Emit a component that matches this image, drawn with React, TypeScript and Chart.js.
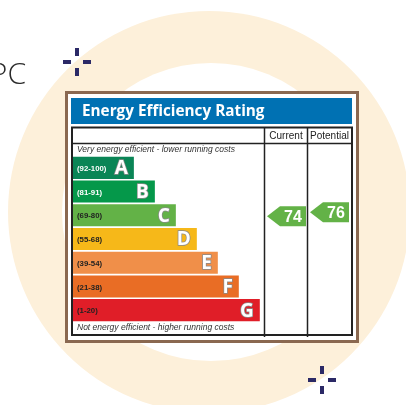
import React, { useEffect, useRef } from "react";
import { Chart, registerables } from "chart.js";

Chart.register(...registerables);

const categories = ["A", "B", "C", "D", "E", "F", "G"];
const rangeLabels = ["(92-100)", "(81-91)", "(69-80)", "(55-68)", "(39-54)", "(21-38)", "(1-20)"];
const rangeMin = [92, 81, 69, 55, 39, 21, 1];
const rangeMax = [100, 91, 80, 68, 54, 38, 20];
const barLengths = [29, 39, 49, 59, 69, 79, 89];
const barColors = ["#0a8556", "#05984a", "#63b247", "#f6b819", "#f08f49", "#e96d25", "#e01e28"];
const rangeTextColors = ["#ffffff", "#ffffff", "#222222", "#222222", "#222222", "#222222", "#222222"];
const currentRating = 74;
const potentialRating = 76;
const titleText = "Energy Efficiency Rating";
const columnHeaders = ["Current", "Potential"];
const topNote = "Very energy efficient - lower running costs";
const bottomNote = "Not energy efficient - higher running costs";
const brandText = "EPC";

function bandIndex(r: number) {
  for (let i = 0; i < rangeMin.length; i++) {
    if (r >= rangeMin[i] && r <= rangeMax[i]) return i;
  }
  return 0;
}

function drawCross(ctx: CanvasRenderingContext2D, cx: number, cy: number) {
  ctx.fillStyle = "#2b2966";
  ctx.fillRect(cx - 2, cy - 14, 4, 8);
  ctx.fillRect(cx - 2, cy + 6, 4, 8);
  ctx.fillRect(cx - 14, cy - 2, 8, 4);
  ctx.fillRect(cx + 6, cy - 2, 8, 4);
}

const epcPlugin = {
  id: "epcPlugin",
  beforeDraw(chart: any) {
    const ctx: CanvasRenderingContext2D = chart.ctx;
    ctx.save();
    ctx.fillStyle = "#ffffff";
    ctx.fillRect(0, 0, chart.width, chart.height);
    ctx.fillStyle = "#fdf0da";
    ctx.beginPath();
    ctx.arc(209, 212, 201, 0, Math.PI * 2);
    ctx.fill();
    ctx.fillStyle = "#ffffff";
    ctx.beginPath();
    ctx.arc(211, 212, 149, 0, Math.PI * 2);
    ctx.fill();

    drawCross(ctx, 77, 62);
    drawCross(ctx, 322, 380);

    ctx.fillStyle = "#2a2a2a";
    ctx.font = "300 30px 'Open Sans', sans-serif";
    ctx.textAlign = "right";
    ctx.textBaseline = "alphabetic";
    ctx.fillText(brandText, 26, 84);

    // box
    ctx.fillStyle = "#ffffff";
    ctx.fillRect(66, 92, 292, 250);
    ctx.strokeStyle = "#8a6850";
    ctx.lineWidth = 3;
    ctx.strokeRect(66.5, 92.5, 291, 249);

    // header
    ctx.fillStyle = "#0071b3";
    ctx.fillRect(71, 98, 281, 26);
    ctx.fillStyle = "#ffffff";
    ctx.font = "bold 15.3px 'Open Sans', sans-serif";
    ctx.textAlign = "left";
    ctx.textBaseline = "alphabetic";
    ctx.fillText(titleText, 82, 116);

    // table
    ctx.strokeStyle = "#222222";
    ctx.lineWidth = 2;
    ctx.strokeRect(72, 127.5, 280, 207.5);
    ctx.lineWidth = 1.5;
    ctx.beginPath();
    ctx.moveTo(72, 143.5);
    ctx.lineTo(352, 143.5);
    ctx.moveTo(264.5, 127);
    ctx.lineTo(264.5, 337);
    ctx.moveTo(307.5, 127);
    ctx.lineTo(307.5, 337);
    ctx.stroke();

    ctx.fillStyle = "#222222";
    ctx.font = "10px 'Liberation Sans', Arial, sans-serif";
    ctx.textAlign = "center";
    ctx.textBaseline = "middle";
    ctx.fillText(columnHeaders[0], 286, 136);
    ctx.fillText(columnHeaders[1], 329.5, 136);

    ctx.fillStyle = "#333333";
    ctx.font = "italic 8.5px 'Liberation Sans', Arial, sans-serif";
    ctx.textAlign = "left";
    ctx.fillText(topNote, 77, 150);
    ctx.fillText(bottomNote, 77, 328);
    ctx.restore();
  },
  afterDatasetsDraw(chart: any) {
    const ctx: CanvasRenderingContext2D = chart.ctx;
    const meta = chart.getDatasetMeta(0);
    const yScale = chart.scales.y;
    ctx.save();
    meta.data.forEach((bar: any, i: number) => {
      const props = bar.getProps(["x", "y", "base", "height"], true);
      ctx.fillStyle = rangeTextColors[i];
      ctx.font = "bold 7.8px 'Liberation Sans', Arial, sans-serif";
      ctx.textAlign = "left";
      ctx.textBaseline = "middle";
      ctx.fillText(rangeLabels[i], props.base + 4, props.y + 1);

      ctx.font = "bold 19px 'Open Sans', sans-serif";
      ctx.textAlign = "right";
      ctx.lineWidth = 1.5;
      ctx.strokeStyle = "#8a8a8a";
      ctx.strokeText(categories[i], props.x - 6, props.y + 1);
      ctx.fillStyle = "#ffffff";
      ctx.fillText(categories[i], props.x - 6, props.y + 1);
    });

    const half = 11;
    const drawArrow = (rating: number, left: number, right: number) => {
      const idx = bandIndex(rating);
      const cy0 = yScale.getPixelForValue(idx);
      const top = cy0 - half;
      const bottom = cy0 + half;
      const y = top + ((rangeMax[idx] - rating) / (rangeMax[idx] - rangeMin[idx])) * (bottom - top);
      const h = 10;
      const head = 13;
      ctx.fillStyle = barColors[idx];
      ctx.beginPath();
      ctx.moveTo(left, y);
      ctx.lineTo(left + head, y - h);
      ctx.lineTo(right, y - h);
      ctx.lineTo(right, y + h);
      ctx.lineTo(left + head, y + h);
      ctx.closePath();
      ctx.fill();
      ctx.fillStyle = "#ffffff";
      ctx.font = "bold 16px 'Liberation Sans', Arial, sans-serif";
      ctx.textAlign = "center";
      ctx.textBaseline = "middle";
      ctx.fillText(String(rating), (left + head + right) / 2, y + 1);
    };
    drawArrow(currentRating, 267, 306);
    drawArrow(potentialRating, 310, 349);
    ctx.restore();
  },
};

export default function App() {
  const ref = useRef<HTMLCanvasElement | null>(null);
  useEffect(() => {
    if (!ref.current) return;
    const chart = new Chart(ref.current, {
      type: "bar",
      data: {
        labels: categories,
        datasets: [
          {
            data: barLengths,
            backgroundColor: barColors,
            borderWidth: 0,
            barPercentage: 0.93,
            categoryPercentage: 1,
          },
        ],
      },
      options: {
        indexAxis: "y",
        responsive: false,
        animation: false,
        layout: { padding: { left: 73, right: 142, top: 156, bottom: 83 } },
        scales: {
          x: { display: false, min: 0, max: 91 },
          y: { display: false },
        },
        plugins: { legend: { display: false }, tooltip: { enabled: false } },
      },
      plugins: [epcPlugin],
    } as any);
    return () => chart.destroy();
  }, []);
  return (
    <canvas
      ref={ref}
      width={406}
      height={405}
      style={{ position: "absolute", left: 0, top: 0, display: "block" }}
    />
  );
}
